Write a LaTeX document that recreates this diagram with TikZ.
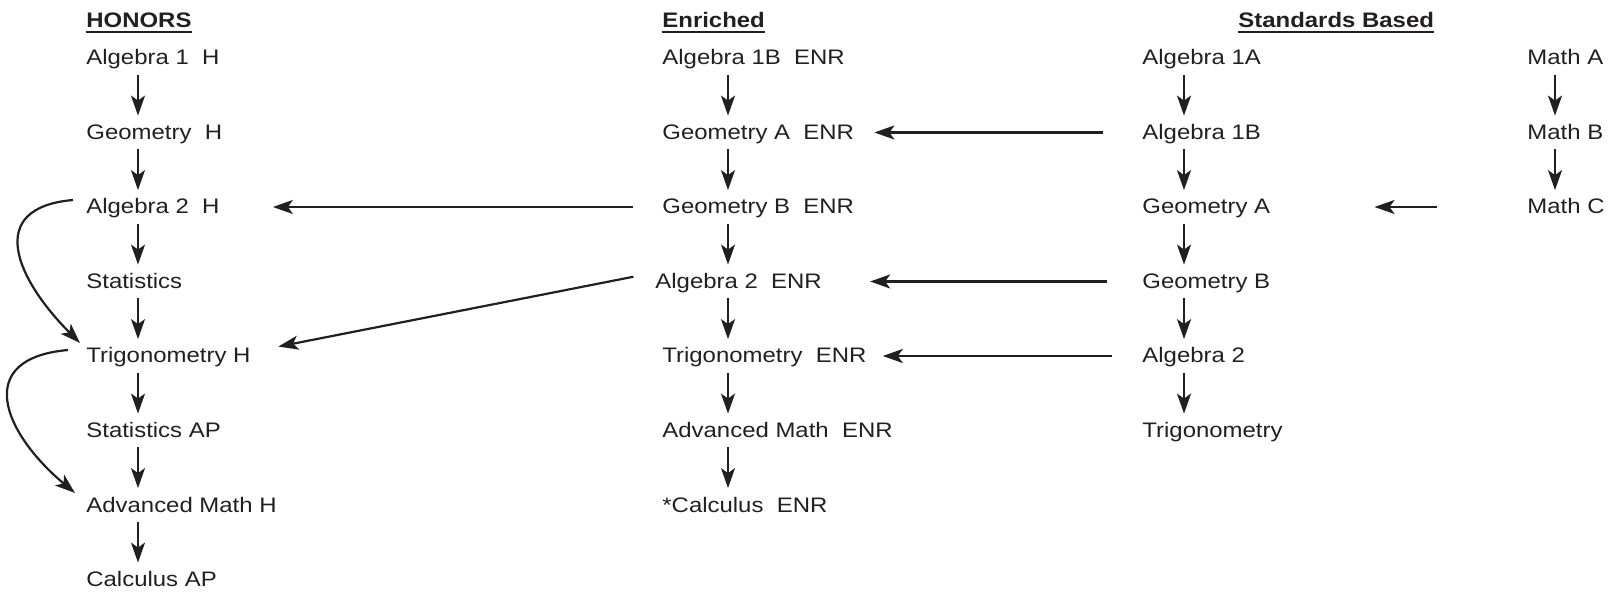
\documentclass[tikz,border=0pt]{standalone}
\usepackage{fontspec}
\setmainfont{Liberation Sans}[FakeStretch=1.14]
\usetikzlibrary{arrows.meta}
\definecolor{ink}{HTML}{231F20}
\tikzset{
  course/.style={anchor=base west, inner xsep=0pt, inner ysep=4.25pt,
    text height=7.5pt, text depth=0.5pt, text=ink,
    font=\fontsize{10.5}{12}\selectfont},
  head/.style={course, inner ysep=0pt, text depth=2pt,
    font=\fontsize{10.5}{12}\selectfont\bfseries},
  uline/.style={draw=ink, line width=1pt},
  flow/.style={->, draw=ink, line width=1.1pt},
}
\begin{document}
\begin{tikzpicture}[x=0.5pt, y=0.5pt, >={Stealth[length=10pt,width=7pt,inset=2.5pt]}]
  \useasboundingbox (0,0) rectangle (1610,-592);

  \node[head] (honh) at (86,-28) {HONORS};
  \node[head] (enrh) at (662,-28) {Enriched};
  \node[head] (stdh) at (1238,-28) {Standards Based};
  \foreach \n in {honh,enrh,stdh}
    \draw[uline] (\n.south west) -- (\n.south east);

  \node[course] (h1) at (86,-65) {Algebra 1~~H};
  \node[course] (h2) at (86,-139.5) {Geometry~~H};
  \node[course] (h3) at (86,-214) {Algebra 2~~H};
  \node[course] (h4) at (86,-288.5) {Statistics};
  \node[course] (h5) at (86,-363) {Trigonometry H};
  \node[course] (h6) at (86,-437.5) {Statistics AP};
  \node[course] (h7) at (86,-512) {Advanced Math H};
  \node[course] (h8) at (86,-586.5) {Calculus AP};

  \node[course] (e1) at (662,-65) {Algebra 1B~~ENR};
  \node[course] (e2) at (662,-139.5) {Geometry A~~ENR};
  \node[course] (e3) at (662,-214) {Geometry B~~ENR};
  \node[course] (e4) at (655,-288.5) {Algebra 2~~ENR};
  \node[course] (e5) at (662,-363) {Trigonometry~~ENR};
  \node[course] (e6) at (662,-437.5) {Advanced Math~~ENR};
  \node[course] (e7) at (662,-512) {*Calculus~~ENR};

  \node[course] (s1) at (1142,-65) {Algebra 1A};
  \node[course] (s2) at (1142,-139.5) {Algebra 1B};
  \node[course] (s3) at (1142,-214) {Geometry A};
  \node[course] (s4) at (1142,-288.5) {Geometry B};
  \node[course] (s5) at (1142,-363) {Algebra 2};
  \node[course] (s6) at (1142,-437.5) {Trigonometry};

  \node[course] (m1) at (1527,-65) {Math A};
  \node[course] (m2) at (1527,-139.5) {Math B};
  \node[course] (m3) at (1527,-214) {Math C};

  % arrow columns
  \coordinate (hx) at (138,0);
  \coordinate (ex) at (728,0);
  \coordinate (sx) at (1184,0);
  \coordinate (mx) at (1555,0);

  \foreach \j [remember=\j as \i (initially 1)] in {2,...,8}
    \draw[flow] (h\i.south -| hx) -- (h\j.north -| hx);
  \foreach \j [remember=\j as \i (initially 1)] in {2,...,7}
    \draw[flow] (e\i.south -| ex) -- (e\j.north -| ex);
  \foreach \j [remember=\j as \i (initially 1)] in {2,...,6}
    \draw[flow] (s\i.south -| sx) -- (s\j.north -| sx);
  \foreach \j [remember=\j as \i (initially 1)] in {2,3}
    \draw[flow] (m\i.south -| mx) -- (m\j.north -| mx);

  \draw[flow, shorten <=19.5pt, shorten >=10pt] (s2.west) -- (e2.east);
  \draw[flow, shorten <=17.5pt, shorten >=24pt] (s4.west) -- (e4.east);
  \draw[flow, shorten <=15pt, shorten >=8pt] (s5.west) -- (e5.east);
  \draw[flow, shorten <=45pt, shorten >=52pt] (m3.west) -- (s3.east);
  \draw[flow, shorten <=14.5pt, shorten >=26.5pt] (e3.west) -- (h3.east);
  \draw[flow, shorten <=11pt, shorten >=14pt] ([yshift=4.5pt]e4.west) -- ([yshift=2pt]h5.east);

  \draw[flow] ([shift={(-13,7)}]h3.west) to[out=185, in=135, looseness=1.6] ([shift={(-6,13)}]h5.west);
  \draw[flow] ([shift={(-18,6)}]h5.west) to[out=185, in=140, looseness=1.7] ([shift={(-11,12)}]h7.west);
\end{tikzpicture}
\end{document}
